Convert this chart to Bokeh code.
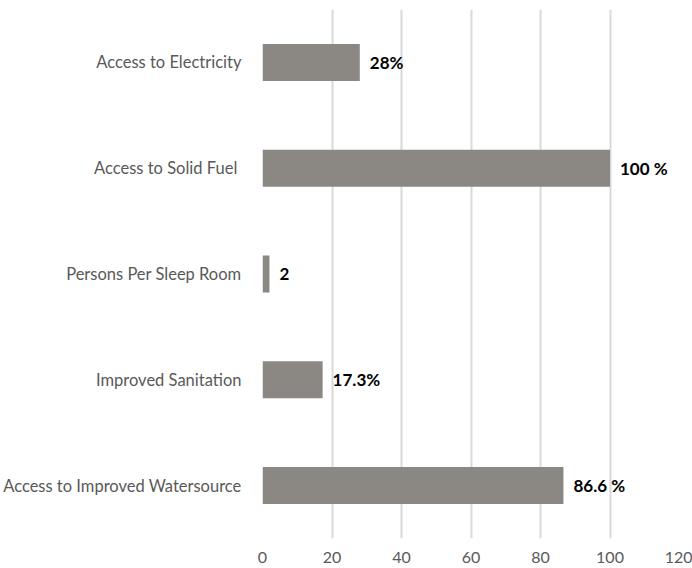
from bokeh.plotting import figure
from bokeh.models import ColumnDataSource, FactorRange, Range1d, FixedTicker
from bokeh.core.properties import value
from bokeh.embed import file_html
from bokeh.resources import INLINE

categories = ["Access to Electricity", "Access to Solid  Fuel", "Persons Per Sleep Room",
              "Improved Sanitation", "Access to Improved Watersource"]
values = [28, 100, 2, 17.3, 86.6]
value_labels = ["28%", "100 %", "2", "17.3%", "86.6 %"]
x_ticks = [0, 20, 40, 60, 80, 100, 120]

source = ColumnDataSource(dict(cat=categories, val=values, lab=value_labels))

p = figure(width=692, height=568, output_backend="svg", toolbar_location=None,
           y_range=FactorRange(factors=list(reversed(categories)), range_padding=0),
           x_range=Range1d(0, 120),
           min_border_left=262, min_border_right=13, min_border_top=9, min_border_bottom=30)

p.hbar(y="cat", right="val", left=0, height=0.35, source=source,
       fill_color="#8b8883", line_color=None)
p.text(x="val", y="cat", text="lab", source=source, x_offset=10,
       text_font=value("Lato"), text_font_style="bold", text_font_size="17px",
       text_color="#000000", text_baseline="middle", text_align="left")

p.outline_line_color = None
p.background_fill_color = "white"
p.border_fill_color = "white"

p.xgrid.ticker = FixedTicker(ticks=x_ticks)
p.xgrid.grid_line_color = "#d9d9d9"
p.xgrid.grid_line_width = 2
p.ygrid.grid_line_color = None

p.xaxis.ticker = FixedTicker(ticks=x_ticks)
p.xaxis.axis_line_color = None
p.xaxis.major_tick_line_color = None
p.xaxis.minor_tick_line_color = None
p.xaxis.major_label_text_font = "Lato"
p.xaxis.major_label_text_font_style = "normal"
p.xaxis.major_label_text_font_size = "16px"
p.xaxis.major_label_text_color = "#595959"
p.xaxis.major_label_standoff = 7

p.yaxis.axis_line_color = None
p.yaxis.major_tick_line_color = None
p.yaxis.minor_tick_line_color = None
p.yaxis.major_label_text_font = "Lato"
p.yaxis.major_label_text_font_size = "16.5px"
p.yaxis.major_label_text_color = "#595959"
p.yaxis.major_label_standoff = 15

open("out.html", "w").write(file_html(p, INLINE))
